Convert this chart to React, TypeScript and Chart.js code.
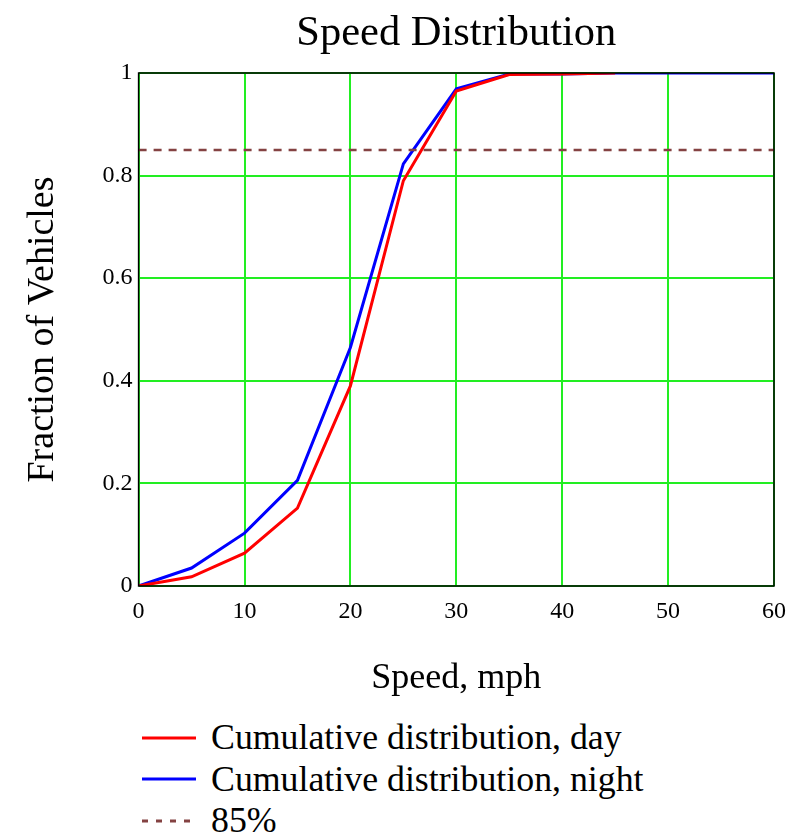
import React, { useEffect, useRef } from "react";
import { Chart, registerables } from "chart.js";

Chart.register(...registerables);

const daySpeeds = [0, 5, 10, 15, 20, 25, 30, 35, 40, 45];
const dayValues = [0, 0.018, 0.064, 0.152, 0.39, 0.79, 0.965, 0.997, 0.998, 1.0];
const nightSpeeds = [0, 5, 10, 15, 20, 25, 30, 35, 40, 45, 50, 55, 60];
const nightValues = [0, 0.035, 0.103, 0.206, 0.465, 0.823, 0.969, 0.998, 0.998, 1, 1, 1, 1];
const refSpeeds = [0, 60];
const refValues = [0.85, 0.85];

const seriesLabels = ["Cumulative distribution, day", "Cumulative distribution, night", "85%"];
const seriesColors = ["#ff0000", "#0000ff", "#844242"];
const titleText = "Speed Distribution";
const xTitle = "Speed, mph";
const yTitle = "Fraction of Vehicles";

const SERIF = "'Liberation Serif', 'Times New Roman', serif";

const framePlugin = {
  id: "frame",
  afterDatasetsDraw(chart: any) {
    const { ctx, chartArea } = chart;
    ctx.save();
    ctx.strokeStyle = "#000";
    ctx.lineWidth = 1.5;
    ctx.strokeRect(chartArea.left, chartArea.top, chartArea.right - chartArea.left, chartArea.bottom - chartArea.top);
    ctx.restore();
  },
};

export default function App() {
  const ref = useRef<HTMLCanvasElement>(null);
  useEffect(() => {
    if (!ref.current) return;
    const toPts = (xs: number[], ys: number[]) => xs.map((x, i) => ({ x, y: ys[i] }));
    const chart = new Chart(ref.current, {
      type: "line",
      data: {
        datasets: [
          { label: seriesLabels[2], data: toPts(refSpeeds, refValues), borderColor: seriesColors[2], borderWidth: 2.5, borderDash: [8, 7], pointRadius: 0 },
          { label: seriesLabels[0], data: toPts(daySpeeds, dayValues), borderColor: seriesColors[0], borderWidth: 3, pointRadius: 0 },
          { label: seriesLabels[1], data: toPts(nightSpeeds, nightValues), borderColor: seriesColors[1], borderWidth: 3, pointRadius: 0 },
        ],
      },
      options: {
        animation: false,
        responsive: true,
        maintainAspectRatio: false,
        layout: { padding: { left: 12, right: 3, top: 0, bottom: 8 } },
        plugins: {
          legend: { display: false },
          tooltip: { enabled: false },
          title: {
            display: true,
            fullSize: false,
            text: titleText,
            color: "#000",
            font: { family: SERIF, size: 42.5, weight: "normal" },
            padding: { top: 0, bottom: 14 },
          },
        },
        scales: {
          x: {
            type: "linear",
            min: 0,
            max: 60,
            ticks: { stepSize: 10, color: "#000", font: { family: SERIF, size: 24 }, padding: 11 },
            grid: { color: "#22ee22", lineWidth: 2, drawTicks: false },
            border: { display: false },
            title: { display: true, text: xTitle, color: "#000", font: { family: SERIF, size: 36 }, padding: { top: 20, bottom: 0 } },
          },
          y: {
            type: "linear",
            min: 0,
            max: 1,
            ticks: {
              stepSize: 0.2,
              color: "#000",
              font: { family: SERIF, size: 24 },
              padding: 6,
              callback: (v: any) => String(Number(Number(v).toFixed(1))),
            },
            grid: { color: "#22ee22", lineWidth: 2, drawTicks: false },
            border: { display: false },
            title: { display: true, text: yTitle, color: "#000", font: { family: SERIF, size: 38 }, padding: { top: 0, bottom: 31 } },
          },
        },
      },
      plugins: [framePlugin],
    });
    return () => chart.destroy();
  }, []);

  const legendRow = (i: number) => (
    <div key={i} style={{ display: "flex", alignItems: "center", height: 41.5 }}>
      <svg width={54} height={6} style={{ marginRight: 15 }}>
        <line
          x1={0}
          y1={3}
          x2={54}
          y2={3}
          stroke={seriesColors[i]}
          strokeWidth={3}
          strokeDasharray={i === 2 ? "6 8" : undefined}
        />
      </svg>
      <span style={{ fontFamily: SERIF, fontSize: 35.8, color: "#000", lineHeight: "41px", whiteSpace: "nowrap" }}>
        {seriesLabels[i]}
      </span>
    </div>
  );

  return (
    <div style={{ width: 789 }}>
      <div style={{ position: "relative", width: 789, height: 700 }}>
        <canvas ref={ref} />
      </div>
      <div style={{ marginLeft: 134, marginTop: 9 }}>{[0, 1, 2].map(legendRow)}</div>
    </div>
  );
}
